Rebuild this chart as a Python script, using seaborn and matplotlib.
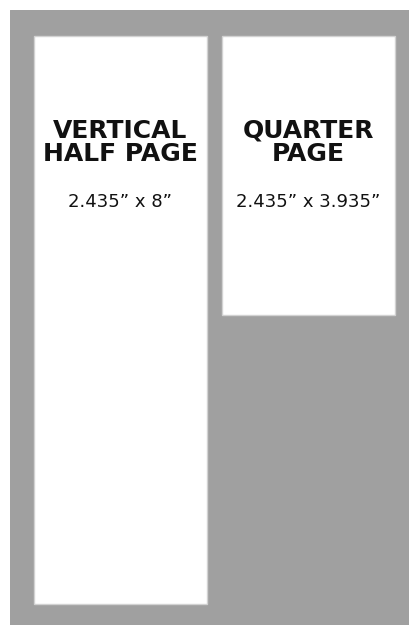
import matplotlib
matplotlib.use("Agg")
import matplotlib.pyplot as plt
import seaborn as sns

# Ad sizes (inches)
titles = ["VERTICAL\nHALF PAGE", "QUARTER\nPAGE"]
size_labels = ["2.435\u201d x 8\u201d", "2.435\u201d x 3.935\u201d"]
widths_in = [2.435, 2.435]
heights_in = [8.0, 3.935]

sns.set_theme(style="white")
plt.rcParams["font.family"] = ["DejaVu Sans"]

PX_PER_IN = 71.0
W, H, DPI = 409, 625, 100
fig = plt.figure(figsize=(W / DPI, H / DPI), dpi=DPI, facecolor="white")

# gray board starts 10px in from top-left, runs to the edges
ax = fig.add_axes([10 / W, 0, (W - 10) / W, (H - 10) / H])
ax.set_facecolor("#a0a0a0")
ax.set_xlim(0, (W - 10) / PX_PER_IN)
ax.set_ylim((H - 10) / PX_PER_IN, 0)
ax.set_axis_off()
ax.add_patch(plt.Rectangle((0, 0), 1, 1, transform=ax.transAxes,
                           color="#a0a0a0", zorder=0))

margin = 24 / PX_PER_IN
top = 26 / PX_PER_IN
gap = 15 / PX_PER_IN
lefts = [margin]
for w in widths_in[:-1]:
    lefts.append(lefts[-1] + w + gap)

ax.bar(lefts, heights_in, width=widths_in, bottom=top, align="edge",
       color="white", edgecolor="#d2d2d2", linewidth=1.0, zorder=2)

for x0, w, t, s in zip(lefts, widths_in, titles, size_labels):
    cx = x0 + w / 2
    ax.text(cx, top + 1.50, t, ha="center", va="center", fontsize=18,
            fontweight="bold", color="#111111", linespacing=0.95, zorder=3)
    ax.text(cx, top + 2.34, s, ha="center", va="center", fontsize=13,
            color="#111111", zorder=3)

fig.savefig("out.png", dpi=DPI, facecolor="white")
